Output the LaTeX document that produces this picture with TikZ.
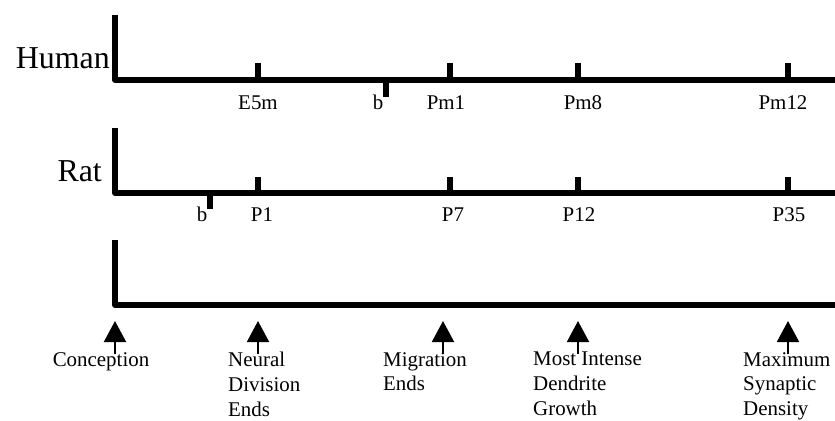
\documentclass[tikz,border=0pt]{standalone}
\usepackage{fontspec}
\setmainfont{Liberation Serif}
\usetikzlibrary{arrows.meta}
\begin{document}
\begin{tikzpicture}[x=1bp,y=-1bp,
  axis/.style={line width=6bp, line join=round},
  tickmark/.style={line width=5.5bp},
  big/.style={font=\fontsize{32}{32}\selectfont, inner sep=0pt, anchor=base east},
  tlab/.style={font=\fontsize{21}{21}\selectfont, inner sep=0pt, anchor=base},
  event/.style={font=\fontsize{21}{25}\selectfont, inner sep=0pt, anchor=north west, align=left},
  uparrow/.style={line width=2bp, -{Triangle[length=21bp,width=22bp]}}]
\useasboundingbox (0,0) rectangle (835,420);

% ---------- Human ----------
\node[big] (human) at (110,68) {Human};
\coordinate (h0) at (115,15);
\coordinate (h1) at (115,80);
\coordinate (h2) at (840,80);
\draw[axis] (h0) -- (h1) -- (h2);
\foreach \x/\n in {258/he, 450/hp1, 578/hp8, 788/hp12}{
  \coordinate (\n a) at (\x,80);
  \coordinate (\n b) at (\x,63);
  \draw[tickmark] (\n a) -- (\n b);
}
\coordinate (hba) at (386,80);
\coordinate (hbb) at (386,97);
\draw[tickmark] (hba) -- (hbb);
\node[tlab] (le5m) at (258,109) {E5m};
\node[tlab] (lhb)  at (378,109) {b};
\node[tlab] (lpm1) at (446,109) {Pm1};
\node[tlab] (lpm8) at (583,109) {Pm8};
\node[tlab] (lpm12) at (783,109) {Pm12};

% ---------- Rat ----------
\node[big] (rat) at (102,181) {Rat};
\coordinate (r0) at (115,128);
\coordinate (r1) at (115,193);
\coordinate (r2) at (840,193);
\draw[axis] (r0) -- (r1) -- (r2);
\foreach \x/\n in {258/rp1, 450/rp7, 578/rp12, 788/rp35}{
  \coordinate (\n a) at (\x,193);
  \coordinate (\n b) at (\x,177);
  \draw[tickmark] (\n a) -- (\n b);
}
\coordinate (rba) at (210,193);
\coordinate (rbb) at (210,209);
\draw[tickmark] (rba) -- (rbb);
\node[tlab] (lrb)  at (202,221) {b};
\node[tlab] (lp1)  at (262,221) {P1};
\node[tlab] (lp7)  at (453,221) {P7};
\node[tlab] (lp12) at (579,221) {P12};
\node[tlab] (lp35) at (789,221) {P35};

% ---------- Events ----------
\coordinate (e0) at (115,240);
\coordinate (e1) at (115,305);
\coordinate (e2) at (840,305);
\draw[axis] (e0) -- (e1) -- (e2);

\node[event, anchor=north] (conc) at (101,352) {Conception};
\node[event] (neur) at (228,352) {Neural\\Division\\Ends};
\node[event] (migr) at (383,352) {Migration\\Ends};
\node[event] (dend) at (533,352) {Most Intense\\Dendrite\\Growth};
\node[event] (syn)  at (743,352) {Maximum\\Synaptic\\Density};

\foreach \x/\n in {115/a1, 258/a2, 443/a3, 578/a4, 788/a5}{
  \coordinate (\n s) at (\x,354);
  \coordinate (\n t) at (\x,321);
  \draw[uparrow] (\n s) -- (\n t);
}
\end{tikzpicture}
\end{document}
